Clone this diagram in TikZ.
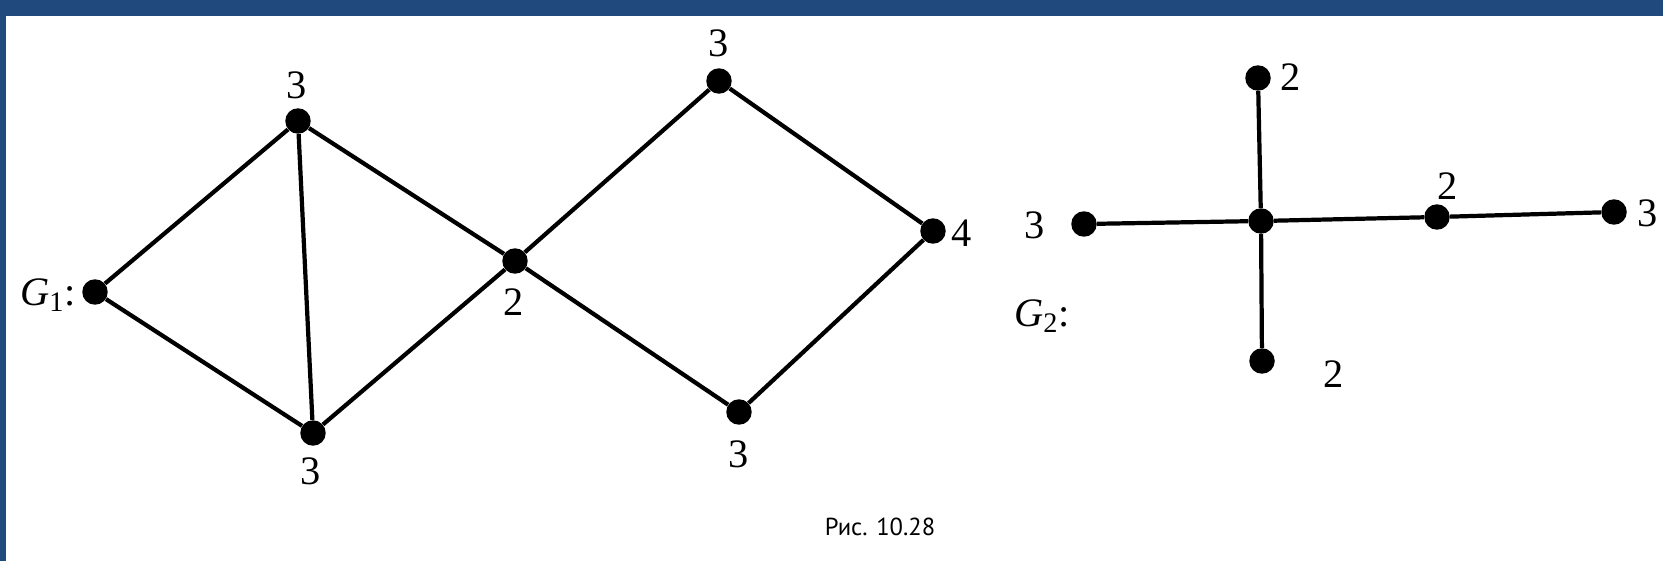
\documentclass[tikz,border=0pt]{standalone}
\usepackage{fontspec}
\setmainfont{Liberation Serif}
\newfontfamily\capfont{PT Sans}
\usetikzlibrary{positioning}
\definecolor{frameblue}{RGB}{32,74,125}

\begin{document}
\begin{tikzpicture}[x=0.02cm, y=-0.02cm,
        vert/.style={circle, fill=black, inner sep=0pt, minimum size=14.5pt},
        deg/.style={font=\fontsize{23}{23}\selectfont, inner sep=0pt},
        edge/.style={line width=2.4pt}]
                \useasboundingbox (0,0) rectangle (1663,561);
                \fill[white] (0,0) rectangle (1663,561);
                \fill[frameblue] (0,0) rectangle (1663,16);
                \fill[frameblue] (0,0) rectangle (6,561);

                % G_1
                \node[vert] (l) at (95,292) {};
                \node[vert] (a) at (298,121) {};
                \node[vert] (b) at (313,433) {};
                \node[vert] (m) at (515,261) {};
                \node[vert] (t) at (719,81) {};
                \node[vert] (r) at (933,231) {};
                \node[vert] (d) at (739,412) {};
                \draw[edge] (l) -- (a) -- (b) -- (l);
                \draw[edge] (a) -- (m) -- (b);
                \draw[edge] (m) -- (t) -- (r) -- (d) -- (m);

                \node[deg, anchor=east] (gone) at (76,295) {\textit{G}\textsubscript{1}:};
                \node[deg] (la) at (297,85) {3};
                \node[deg] (lb) at (311,471) {3};
                \node[deg] (lm) at (514,302) {2};
                \node[deg] (lt) at (719,43) {3};
                \node[deg] (lr) at (962,233) {4};
                \node[deg] (ld) at (739,454) {3};

                % G_2
                \node[vert] (c) at (1261,221) {};
                \node[vert] (cu) at (1258,78) {};
                \node[vert] (cd) at (1262,361) {};
                \node[vert] (cl) at (1084,224) {};
                \node[vert] (cm) at (1437,217) {};
                \node[vert] (cr) at (1614,212) {};
                \draw[edge] (cu) -- (c) -- (cd);
                \draw[edge] (cl) -- (c) -- (cm) -- (cr);

                \node[deg] (gtwo) at (1042,316) {\textit{G}\textsubscript{2}:};
                \node[deg] (lcl) at (1035,225) {3};
                \node[deg] (lcu) at (1291,77) {2};
                \node[deg] (lcm) at (1448,186) {2};
                \node[deg] (lcr) at (1648,213) {3};
                \node[deg] (lcd) at (1334,374) {2};

                \node[font=\capfont\fontsize{14}{14}\selectfont] (cap) at (880,527) {Рис. 10.28};
            \end{tikzpicture}
\end{document}
